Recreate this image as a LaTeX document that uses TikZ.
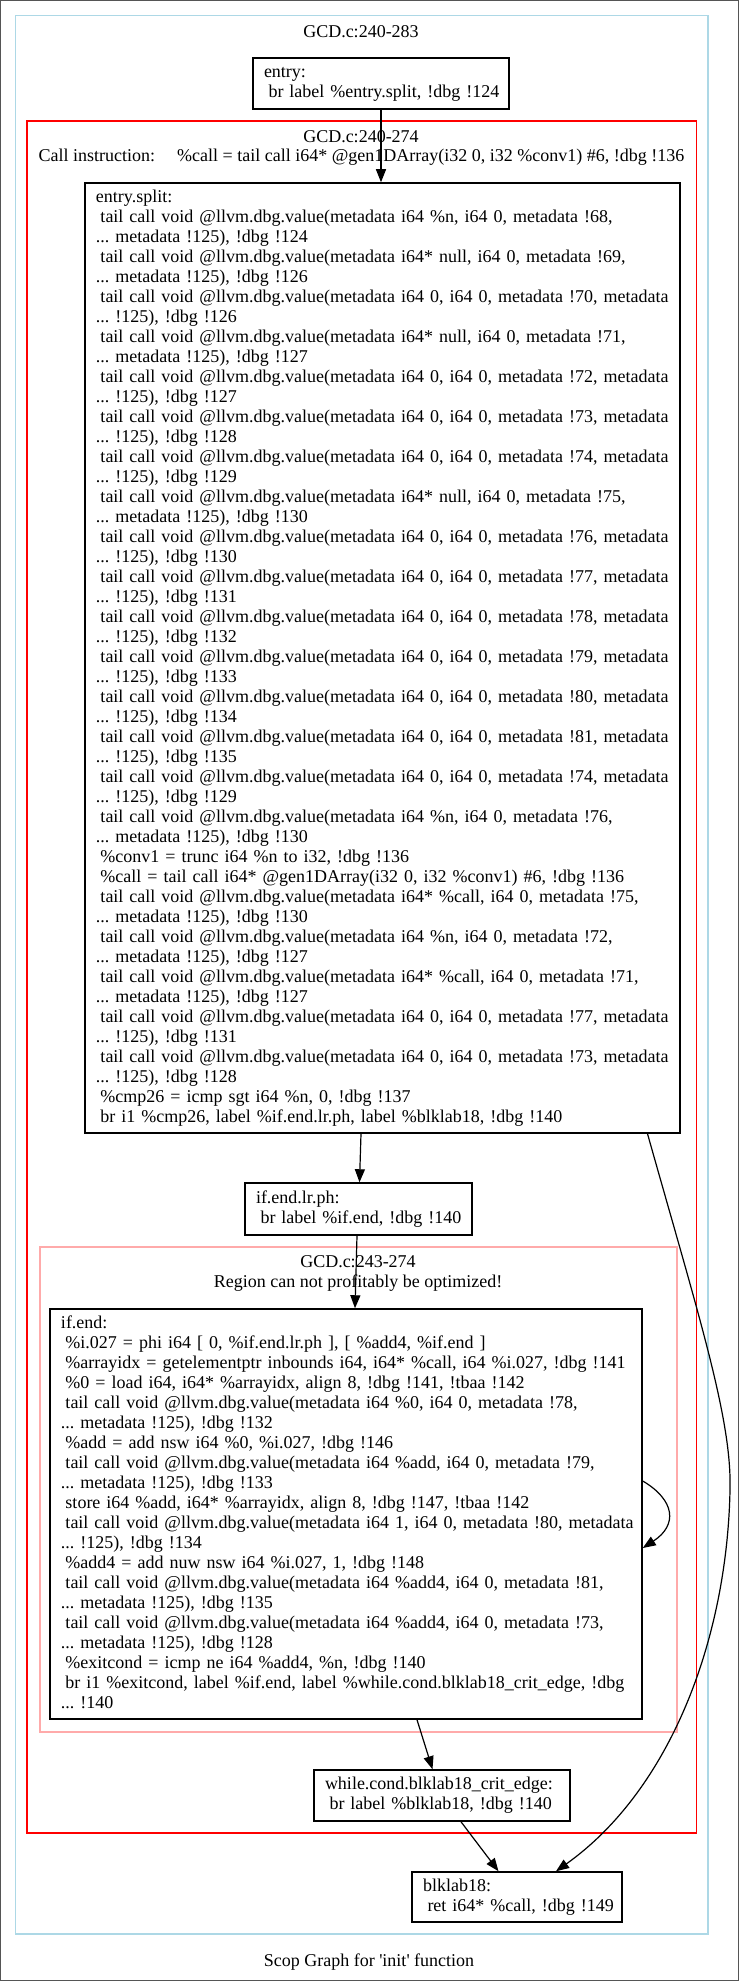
\documentclass[tikz,border=0pt]{standalone}
\usepackage{fontspec}
\setmainfont{Liberation Serif}
\usetikzlibrary{arrows.meta}

\definecolor{scopblue}{HTML}{ADD8E6}
\definecolor{scoppink}{HTML}{FFAAAA}
\definecolor{framegray}{HTML}{555555}

\newcommand{\bbfont}{\fontsize{18bp}{20bp}\selectfont\frenchspacing}
\newcommand{\ind}{\hspace*{4.5bp}}
\newcommand{\dbgv}{\ind tail call void @llvm.dbg.value(metadata}
\newcommand{\blk}[1]{\begin{tabular}{@{}l@{}}#1\end{tabular}}

\tikzset{
	bb/.style={draw, line width=1.5bp, align=left, inner xsep=11bp, inner ysep=0pt, font=\bbfont},
	cfg/.style={line width=1.2bp, -{Triangle[length=13bp,width=10bp]}},
	ttl/.style={anchor=base, font=\bbfont, inner sep=0pt},
}

\begin{document}
\begin{tikzpicture}[x=1bp,y=-1bp]
	\useasboundingbox (0,0) rectangle (739,1981);

	% frame and regions
	\draw[framegray, line width=1bp] (0.5,0.5) rectangle (738.5,1980.5);
	\draw[scopblue, line width=1.3bp] (15.5,15.5) rectangle (708,1934);
	\draw[red, line width=1.3bp] (27,121) rectangle (696.5,1833);
	\draw[scoppink, line width=1.3bp] (40,1247) rectangle (677,1732);

	% region titles
	\node[ttl] (fntitle) at (361,37) {GCD.c:240-283};
	\node[ttl] (rtitle) at (361,142) {GCD.c:240-274};
	\node[ttl] (rcall) at (361.5,161) {Call instruction:\hspace{22bp}\%call = tail call i64* @gen1DArray(i32 0, i32 \%conv1) \#6, !dbg !136};
	\node[ttl] (ptitle) at (358,1267) {GCD.c:243-274};
	\node[ttl] (pnote) at (358,1287) {Region can not profitably be optimized!};
	\node[ttl] (caption) at (369,1966) {Scop Graph for \textquotesingle init\textquotesingle{} function};

	% blocks
	\node[bb, text width=234bp, minimum height=51bp] (entry) at (381,83.5)
		{\blk{entry:\\\ind br label \%entry.split, !dbg !124}};

	\node[bb, text width=573bp, minimum height=950bp] (split) at (382.5,658) {\blk{entry.split:\\
\dbgv{} i64 \%n, i64 0, metadata !68,\\
... metadata !125), !dbg !124\\
\dbgv{} i64* null, i64 0, metadata !69,\\
... metadata !125), !dbg !126\\
\dbgv{} i64 0, i64 0, metadata !70, metadata\\
... !125), !dbg !126\\
\dbgv{} i64* null, i64 0, metadata !71,\\
... metadata !125), !dbg !127\\
\dbgv{} i64 0, i64 0, metadata !72, metadata\\
... !125), !dbg !127\\
\dbgv{} i64 0, i64 0, metadata !73, metadata\\
... !125), !dbg !128\\
\dbgv{} i64 0, i64 0, metadata !74, metadata\\
... !125), !dbg !129\\
\dbgv{} i64* null, i64 0, metadata !75,\\
... metadata !125), !dbg !130\\
\dbgv{} i64 0, i64 0, metadata !76, metadata\\
... !125), !dbg !130\\
\dbgv{} i64 0, i64 0, metadata !77, metadata\\
... !125), !dbg !131\\
\dbgv{} i64 0, i64 0, metadata !78, metadata\\
... !125), !dbg !132\\
\dbgv{} i64 0, i64 0, metadata !79, metadata\\
... !125), !dbg !133\\
\dbgv{} i64 0, i64 0, metadata !80, metadata\\
... !125), !dbg !134\\
\dbgv{} i64 0, i64 0, metadata !81, metadata\\
... !125), !dbg !135\\
\dbgv{} i64 0, i64 0, metadata !74, metadata\\
... !125), !dbg !129\\
\dbgv{} i64 \%n, i64 0, metadata !76,\\
... metadata !125), !dbg !130\\
\ind\%conv1 = trunc i64 \%n to i32, !dbg !136\\
\ind\%call = tail call i64* @gen1DArray(i32 0, i32 \%conv1) \#6, !dbg !136\\
\dbgv{} i64* \%call, i64 0, metadata !75,\\
... metadata !125), !dbg !130\\
\dbgv{} i64 \%n, i64 0, metadata !72,\\
... metadata !125), !dbg !127\\
\dbgv{} i64* \%call, i64 0, metadata !71,\\
... metadata !125), !dbg !127\\
\dbgv{} i64 0, i64 0, metadata !77, metadata\\
... !125), !dbg !131\\
\dbgv{} i64 0, i64 0, metadata !73, metadata\\
... !125), !dbg !128\\
\ind\%cmp26 = icmp sgt i64 \%n, 0, !dbg !137\\
\ind br i1 \%cmp26, label \%if.end.lr.ph, label \%blklab18, !dbg !140}};

	\node[bb, text width=205bp, minimum height=52bp] (lrph) at (358.5,1209)
		{\blk{if.end.lr.ph:\\\ind br label \%if.end, !dbg !140}};

	\node[bb, text width=570bp, minimum height=410bp] (ifend) at (346,1514) {\blk{if.end:\\
\ind\%i.027 = phi i64 [ 0, \%if.end.lr.ph ], [ \%add4, \%if.end ]\\
\ind\%arrayidx = getelementptr inbounds i64, i64* \%call, i64 \%i.027, !dbg !141\\
\ind\%0 = load i64, i64* \%arrayidx, align 8, !dbg !141, !tbaa !142\\
\dbgv{} i64 \%0, i64 0, metadata !78,\\
... metadata !125), !dbg !132\\
\ind\%add = add nsw i64 \%0, \%i.027, !dbg !146\\
\dbgv{} i64 \%add, i64 0, metadata !79,\\
... metadata !125), !dbg !133\\
\ind store i64 \%add, i64* \%arrayidx, align 8, !dbg !147, !tbaa !142\\
\dbgv{} i64 1, i64 0, metadata !80, metadata\\
... !125), !dbg !134\\
\ind\%add4 = add nuw nsw i64 \%i.027, 1, !dbg !148\\
\dbgv{} i64 \%add4, i64 0, metadata !81,\\
... metadata !125), !dbg !135\\
\dbgv{} i64 \%add4, i64 0, metadata !73,\\
... metadata !125), !dbg !128\\
\ind\%exitcond = icmp ne i64 \%add4, \%n, !dbg !140\\
\ind br i1 \%exitcond, label \%if.end, label \%while.cond.blklab18\_crit\_edge, !dbg\\
... !140}};

	\node[bb, text width=234bp, minimum height=51bp] (whilecond) at (442,1795.5)
		{\blk{while.cond.blklab18\_crit\_edge:\\\ind br label \%blklab18, !dbg !140}};

	\node[bb, text width=188bp, minimum height=50bp] (blklab) at (517,1897)
		{\blk{blklab18:\\\ind ret i64* \%call, !dbg !149}};

	% control flow
	\draw[cfg] (entry.south) -- (entry.south |- split.north);
	\draw[cfg] ([xshift=-21.5bp]split.south) -- ([xshift=1bp]lrph.north);
	\draw[cfg] ([xshift=-1.5bp]lrph.south) -- ([xshift=9bp]ifend.north);
	\draw[cfg] ([yshift=33bp]ifend.east) .. controls (675,1500) and (678,1525) .. ([yshift=-34bp]ifend.east);
	\draw[cfg] ([xshift=71bp]ifend.south) -- ([xshift=-9.5bp]whilecond.north);
	\draw[cfg] ([xshift=19bp]whilecond.south) -- ([xshift=-18.5bp]blklab.north);
	\draw[cfg] ([xshift=265bp]split.south) .. controls (700,1320) and (732,1420) .. (730,1490)
		.. controls (727,1640) and (670,1790) .. ([xshift=39bp]blklab.north);

\end{tikzpicture}
\end{document}
